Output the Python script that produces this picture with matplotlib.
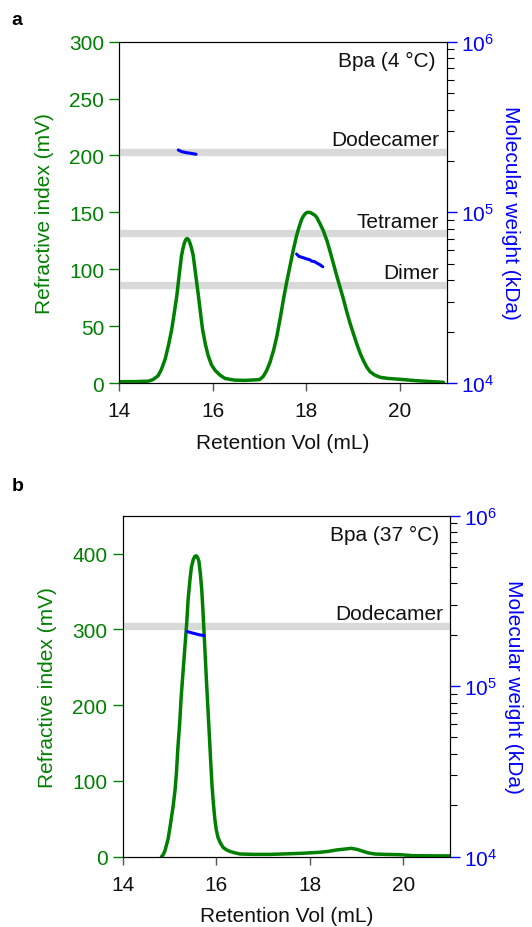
import matplotlib
matplotlib.use("Agg")
import matplotlib.pyplot as plt
from matplotlib.ticker import LogLocator, NullFormatter

plt.rcParams['font.family'] = ['Liberation Sans', 'DejaVu Sans']
plt.rcParams['mathtext.fontset'] = 'custom'
plt.rcParams['mathtext.rm'] = 'Liberation Sans'
plt.rcParams['mathtext.it'] = 'Liberation Sans:italic'

GREEN = '#008000'
BLUE = '#0000ff'
BAND = '#d9d9d9'
FS = 15

# --- panel a: Bpa at 4 °C ---
vol_a = [14.0, 14.3, 14.62, 14.72, 14.83, 14.90, 14.98, 15.05, 15.12, 15.18, 15.23,
         15.28, 15.33, 15.36, 15.39, 15.42, 15.45, 15.48, 15.51, 15.54, 15.58, 15.63,
         15.69, 15.74, 15.78, 15.84, 15.90, 15.97, 16.05, 16.15, 16.26, 16.47, 16.7,
         17.0, 17.08, 17.15, 17.22, 17.30, 17.37, 17.44, 17.51, 17.58, 17.65, 17.72,
         17.79, 17.85, 17.90, 17.94, 17.98, 18.02, 18.06, 18.10, 18.14, 18.18, 18.22,
         18.29, 18.36, 18.44, 18.51, 18.58, 18.65, 18.72, 18.79, 18.86, 18.93, 19.0,
         19.08, 19.15, 19.22, 19.29, 19.36, 19.46, 19.58, 19.75, 19.93, 20.36, 20.93]
ri_a = [1.2, 1.2, 1.6, 3.0, 6.4, 12, 21, 33, 47, 63, 77,
        95, 112, 118, 123, 126, 127, 126, 123, 119, 112, 96,
        77, 60, 47, 34, 24, 16, 11, 7, 4, 2.5, 2.3,
        3, 5.9, 11, 18, 29, 41.6, 57, 73.8, 89, 103, 117,
        129.5, 138, 144, 147, 149, 150, 150, 149.5, 148.5, 147.5, 145.6,
        140, 134, 125, 115, 104.5, 94, 84, 74, 63, 53, 44,
        34, 26, 19.6, 14, 10, 7, 5, 4, 3.5, 2, 0.6]

mw_vol_a1 = [15.26, 15.33, 15.42, 15.52, 15.64]
mw_a1 = [2.32e5, 2.27e5, 2.24e5, 2.22e5, 2.19e5]
mw_vol_a2 = [17.79, 17.84, 17.90, 17.95, 18.01, 18.06, 18.12, 18.17, 18.22, 18.28, 18.35]
mw_a2 = [5.70e4, 5.52e4, 5.46e4, 5.40e4, 5.33e4, 5.29e4, 5.17e4, 5.15e4, 5.05e4, 4.95e4, 4.80e4]

oligomers_a = ['Dodecamer', 'Tetramer', 'Dimer']
oligomer_mw_a = [2.26e5, 7.55e4, 3.77e4]

# --- panel b: Bpa at 37 °C ---
vol_b = [14.83, 14.86, 14.90, 14.97, 15.02, 15.08, 15.12, 15.15, 15.18, 15.22, 15.25,
         15.29, 15.33, 15.37, 15.40, 15.44, 15.47, 15.51, 15.54, 15.57, 15.60, 15.63,
         15.66, 15.69, 15.715, 15.74, 15.765, 15.79, 15.82, 15.85, 15.88, 15.91, 15.94,
         15.97, 16.0, 16.04, 16.09, 16.15, 16.22, 16.29, 16.4, 16.51, 16.8, 17.15,
         17.5, 17.86, 18.22, 18.4, 18.57, 18.75, 18.89, 19.02, 19.14, 19.25, 19.39,
         19.6, 19.93, 20.21, 20.5, 21.0]
ri_b = [0, 2, 7, 23, 42, 67, 88, 111, 143, 177, 210,
        243, 276, 309, 340, 366, 382, 392, 396, 397, 395, 390,
        374, 353, 326, 296, 265, 234, 199, 164, 128, 94, 70,
        50, 36, 25, 18, 12, 9, 7, 5, 3.5, 3, 3,
        3.7, 4.5, 5.8, 7, 8.8, 10, 11, 9.5, 7, 5, 3.5,
        3, 2.6, 1.3, 1.1, 1.0]

mw_vol_b = [15.38, 15.46, 15.55, 15.64, 15.74]
mw_b = [2.09e5, 2.06e5, 2.03e5, 2.00e5, 1.98e5]

oligomers_b = ['Dodecamer']
oligomer_mw_b = [2.26e5]

fig = plt.figure(figsize=(5.32, 9.28), dpi=100)


def panel(rect, vol, ri, ri_max, ri_ticks, mw_traces, oligomers, oligomer_mw,
          title, letter, letter_y, label_x):
    ax = fig.add_axes(rect)
    ax2 = ax.twinx()

    ax.set_xlim(14, 21)
    ax.set_ylim(0, ri_max)
    ax.set_xticks([14, 16, 18, 20])
    ax.set_yticks(ri_ticks)
    ax2.set_yscale('log')
    ax2.set_ylim(1e4, 1e6)
    ax2.yaxis.set_major_locator(LogLocator(base=10, numticks=5))
    ax2.yaxis.set_minor_locator(LogLocator(base=10, subs=range(2, 10), numticks=20))
    ax2.yaxis.set_minor_formatter(NullFormatter())

    # grey reference bands for oligomer masses
    for name, mw in zip(oligomers, oligomer_mw):
        ax2.axhline(mw, color=BAND, lw=5.3, zorder=1)
        ax2.annotate(name, xy=(label_x, mw), xycoords=('axes fraction', 'data'),
                     xytext=(0, 4.8), textcoords='offset points',
                     ha='right', va='baseline', fontsize=FS, color='#111111')

    # refractive index trace drawn on top of the bands
    ax2.plot(vol, ri, color=GREEN, lw=2.5, transform=ax.transData, zorder=2,
             solid_joinstyle='round', solid_capstyle='round')
    for mv, mw in mw_traces:
        ax2.plot(mv, mw, color=BLUE, lw=2.2, zorder=3, solid_capstyle='round')

    ax.text(0.967, 0.944, title, transform=ax.transAxes, ha='right', va='center',
            fontsize=FS, color='#111111')

    for a in (ax, ax2):
        for s in a.spines.values():
            s.set_linewidth(0.8)
            s.set_color('black')

    ax.tick_params(axis='y', colors=GREEN, length=7, width=1, pad=4, labelsize=FS)
    ax.tick_params(axis='x', colors='#555555', labelcolor='#111111', length=6,
                   width=1, pad=7, labelsize=FS)
    ax2.tick_params(axis='y', which='major', colors=BLUE, length=7, width=1,
                    pad=3, labelsize=FS)
    ax2.tick_params(axis='y', which='minor', color='black', length=5, width=0.8)

    ax.set_ylabel('Refractive index (mV)', color=GREEN, fontsize=FS, labelpad=11)
    ax2.set_ylabel('Molecular weight (kDa)', color=BLUE, fontsize=FS,
                   rotation=270, labelpad=19)
    ax.set_xlabel('Retention Vol (mL)', fontsize=FS, color='#111111', labelpad=9)

    fig.text(0.022, letter_y, letter, fontsize=14, fontweight='bold',
             ha='left', va='center')
    return ax, ax2


panel([0.2243, 0.5862, 0.6154, 0.3678], vol_a, ri_a, 300, range(0, 301, 50),
      [(mw_vol_a1, mw_a1), (mw_vol_a2, mw_a2)], oligomers_a, oligomer_mw_a,
      'Bpa (4 °C)', 'a', 0.978, 0.977)
panel([0.2306, 0.0758, 0.6153, 0.3675], vol_b, ri_b, 450, range(0, 401, 100),
      [(mw_vol_b, mw_b)], oligomers_b, oligomer_mw_b,
      'Bpa (37 °C)', 'b', 0.476, 0.9795)

fig.savefig('out.png', dpi=100)
